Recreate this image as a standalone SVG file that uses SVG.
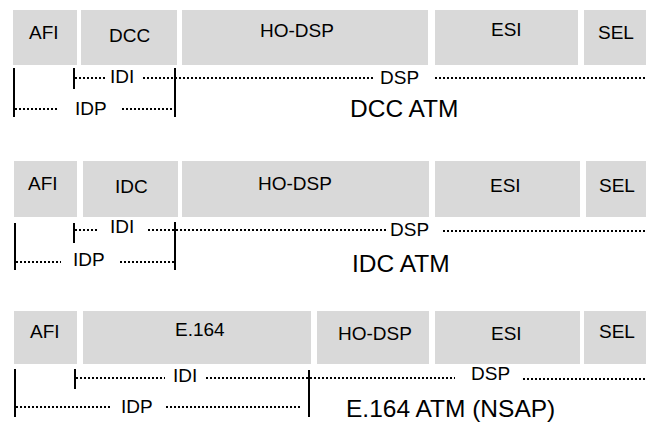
<svg xmlns="http://www.w3.org/2000/svg" width="646" height="422" viewBox="0 0 646 422">
<style>
.box{fill:#d9d9d9;stroke:none}
.lbl{font-family:"Liberation Sans",Arial,sans-serif;font-size:19px;fill:#000}
.big{font-family:"Liberation Sans",Arial,sans-serif;font-size:24.5px;fill:#000}
.dot{stroke:#000;stroke-width:2;stroke-dasharray:2 2;fill:none}
.bar{stroke:#000;stroke-width:2;fill:none}
</style>
<rect width="646" height="422" fill="#fff"/>
<!-- Row 1 -->
<g id="r1-afi"><rect class="box" x="13" y="10" width="64" height="55"/><text class="lbl" x="29" y="39">AFI</text></g>
<g id="r1-dcc"><rect class="box" x="81" y="10" width="96" height="55"/><text class="lbl" x="109" y="42">DCC</text></g>
<g id="r1-hodsp"><rect class="box" x="182" y="10" width="246" height="55"/><text class="lbl" x="260" y="37">HO-DSP</text></g>
<g id="r1-esi"><rect class="box" x="435" y="10" width="143" height="55"/><text class="lbl" x="491" y="36">ESI</text></g>
<g id="r1-sel"><rect class="box" x="584" y="10" width="62" height="55"/><text class="lbl" x="598" y="39">SEL</text></g>
<!-- Row 2 -->
<g id="r2-afi"><rect class="box" x="14" y="161" width="63" height="56"/><text class="lbl" x="28" y="190">AFI</text></g>
<g id="r2-idc"><rect class="box" x="83" y="161" width="95" height="56"/><text class="lbl" x="115" y="193">IDC</text></g>
<g id="r2-hodsp"><rect class="box" x="182" y="161" width="247" height="56"/><text class="lbl" x="258" y="190">HO-DSP</text></g>
<g id="r2-esi"><rect class="box" x="435" y="161" width="145" height="56"/><text class="lbl" x="490" y="192">ESI</text></g>
<g id="r2-sel"><rect class="box" x="586" y="161" width="60" height="56"/><text class="lbl" x="599" y="192">SEL</text></g>
<!-- Row 3 -->
<g id="r3-afi"><rect class="box" x="14" y="311" width="63" height="53"/><text class="lbl" x="30" y="338">AFI</text></g>
<g id="r3-e164"><rect class="box" x="83" y="311" width="228" height="53"/><text class="lbl" x="175" y="336">E.164</text></g>
<g id="r3-hodsp"><rect class="box" x="317" y="311" width="112" height="53"/><text class="lbl" x="338" y="340">HO-DSP</text></g>
<g id="r3-esi"><rect class="box" x="435" y="311" width="145" height="53"/><text class="lbl" x="491" y="340">ESI</text></g>
<g id="r3-sel"><rect class="box" x="584" y="311" width="62" height="53"/><text class="lbl" x="599" y="338">SEL</text></g>
<g id="connectors">
<!-- Row 1 -->
<line class="bar" x1="14" y1="68" x2="14" y2="117"/>
<line class="bar" x1="74" y1="68" x2="74" y2="89"/>
<line class="bar" x1="175" y1="68" x2="175" y2="117"/>
<line class="dot" x1="75" y1="78" x2="106" y2="78"/>
<line class="dot" x1="143" y1="78" x2="373" y2="78"/>
<line class="dot" x1="435" y1="78" x2="646" y2="78"/>
<line class="dot" x1="15" y1="109" x2="58" y2="109"/>
<line class="dot" x1="122" y1="109" x2="174" y2="109"/>
<!-- Row 2 -->
<line class="bar" x1="15" y1="223" x2="15" y2="270"/>
<line class="bar" x1="74" y1="223" x2="74" y2="243"/>
<line class="bar" x1="175" y1="222" x2="175" y2="270"/>
<line class="dot" x1="75" y1="230" x2="99" y2="230"/>
<line class="dot" x1="148" y1="230" x2="387" y2="230"/>
<line class="dot" x1="443" y1="231" x2="646" y2="231"/>
<line class="dot" x1="16" y1="262" x2="61" y2="262"/>
<line class="dot" x1="120" y1="262" x2="174" y2="262"/>
<!-- Row 3 -->
<line class="bar" x1="15" y1="369" x2="15" y2="417"/>
<line class="bar" x1="75" y1="369" x2="75" y2="389"/>
<line class="bar" x1="309" y1="370" x2="309" y2="417"/>
<line class="dot" x1="76" y1="378" x2="165" y2="378"/>
<line class="dot" x1="206" y1="378" x2="455" y2="378"/>
<line class="dot" x1="523" y1="379" x2="646" y2="379"/>
<line class="dot" x1="16" y1="407" x2="110" y2="407"/>
<line class="dot" x1="166" y1="407" x2="302" y2="407"/>
</g>
<g id="labels">
<text class="lbl" x="110" y="83">IDI</text>
<text class="lbl" x="380" y="84">DSP</text>
<text class="lbl" x="75" y="115">IDP</text>
<text class="big" x="350" y="117">DCC ATM</text>
<text class="lbl" x="110" y="233">IDI</text>
<text class="lbl" x="390" y="236">DSP</text>
<text class="lbl" x="73" y="266">IDP</text>
<text class="big" x="352" y="272">IDC ATM</text>
<text class="lbl" x="173" y="382">IDI</text>
<text class="lbl" x="471" y="380">DSP</text>
<text class="lbl" x="121" y="413">IDP</text>
<text class="big" x="346" y="417">E.164 ATM (NSAP)</text>
</g>
</svg>
